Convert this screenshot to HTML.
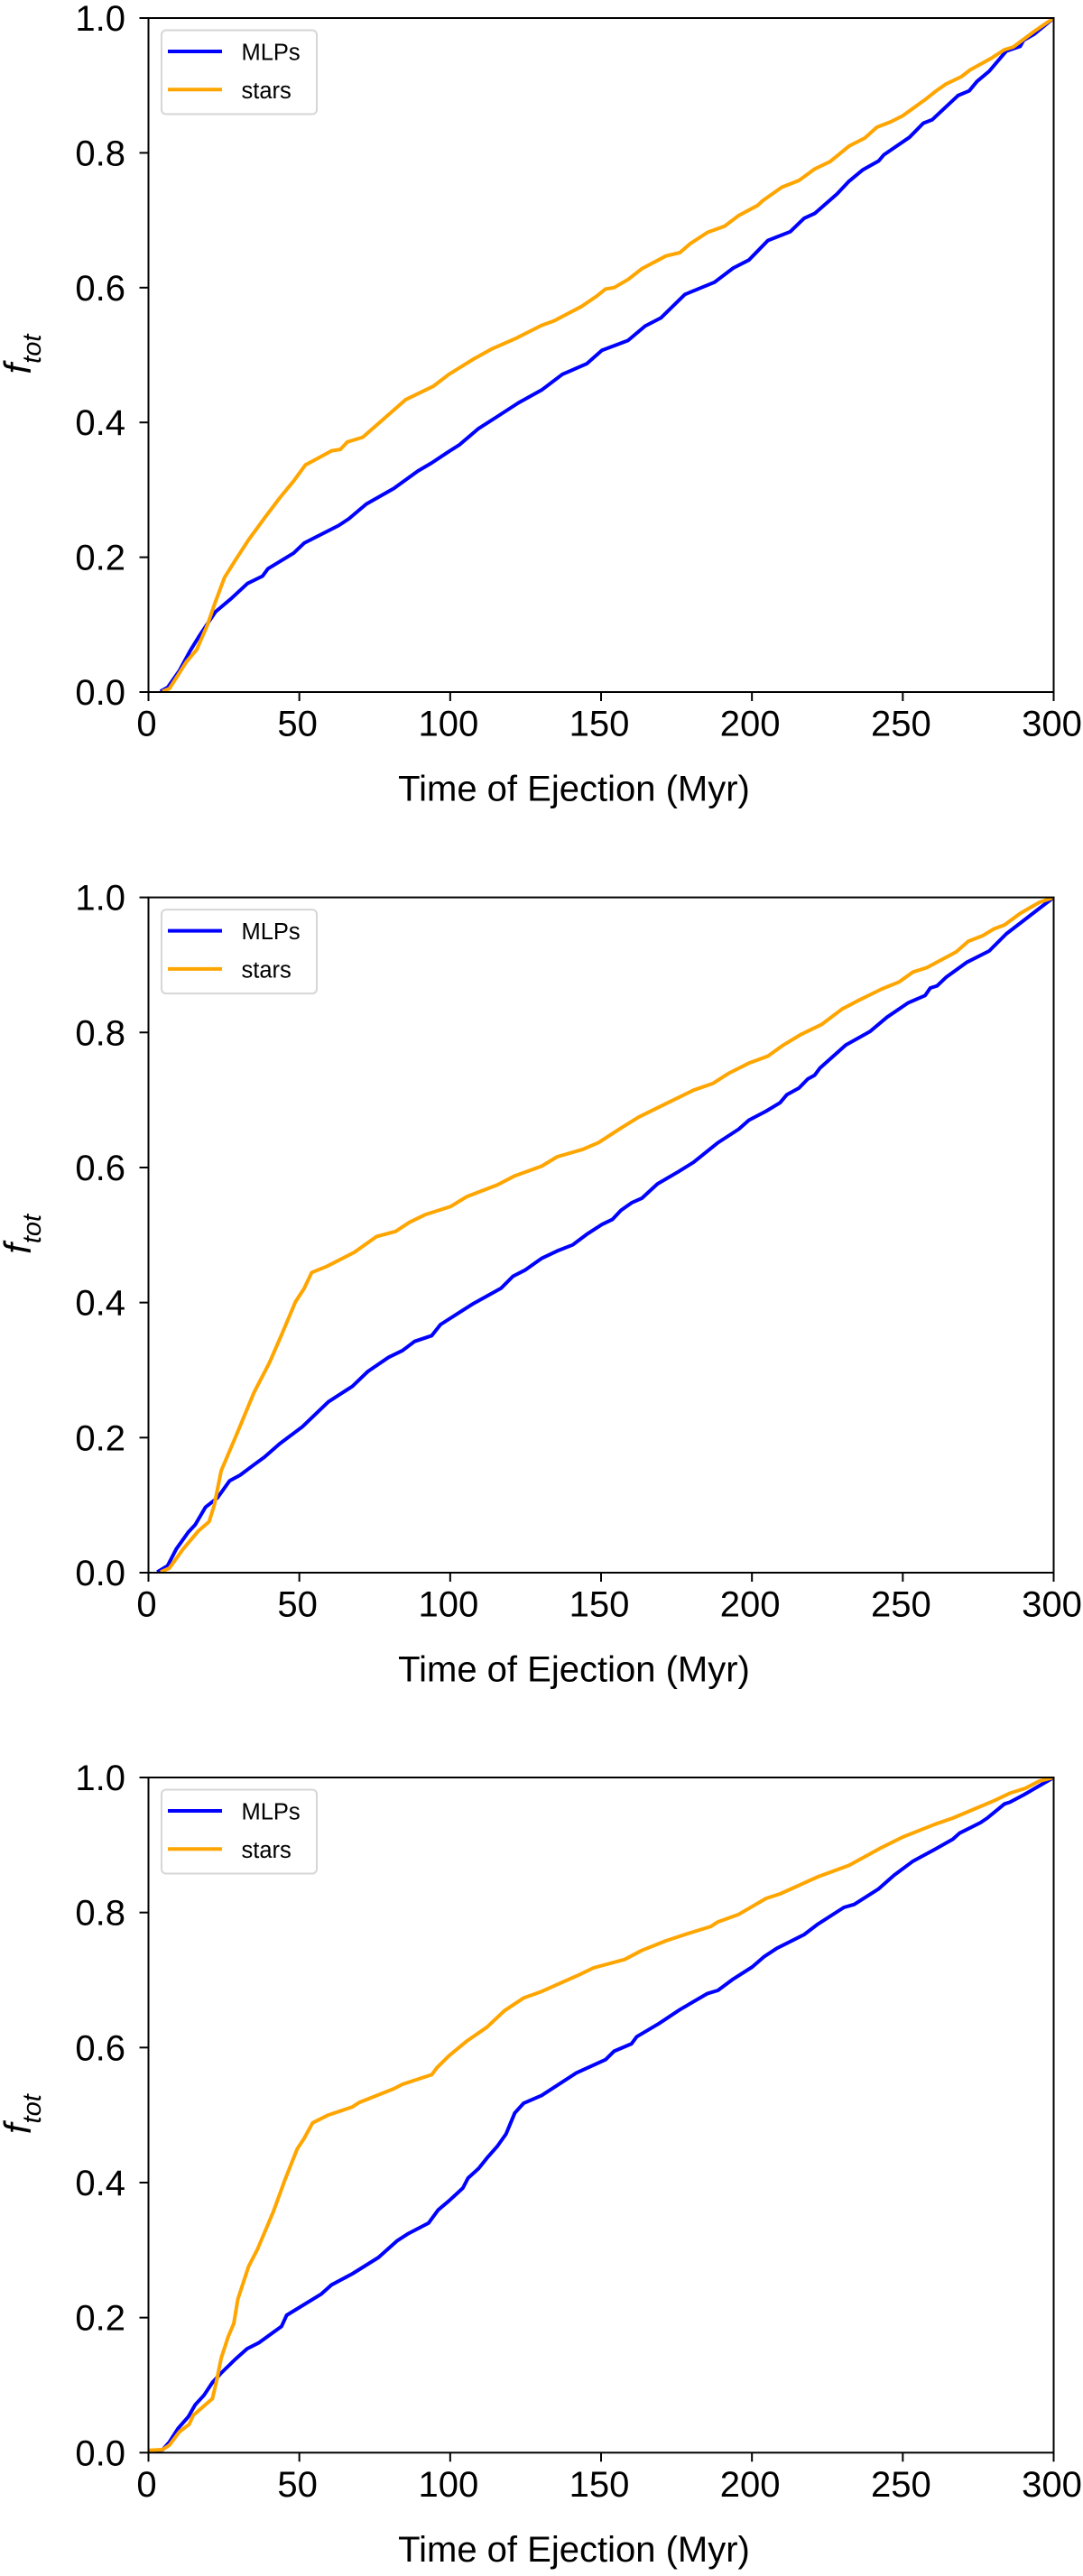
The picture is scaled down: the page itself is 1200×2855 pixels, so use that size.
<!DOCTYPE html>
<html lang="en">
<head>
<meta charset="utf-8">
<title>Cumulative fraction vs time of ejection</title>
<style>
html,body{margin:0;padding:0;background:#fff;}
svg{display:block;font-family:"Liberation Sans",Arial,sans-serif;}
</style>
</head>
<body>
<svg id="figure" xmlns="http://www.w3.org/2000/svg" width="1200" height="2855" viewBox="0 0 1200 2855"></svg>
<script>
const xTickValues = [0, 50, 100, 150, 200, 250, 300];
const yTickValues = [0, 0.2, 0.4, 0.6, 0.8, 1];
const yTickLabels = ["0.0", "0.2", "0.4", "0.6", "0.8", "1.0"];
const seriesNames = ["MLPs", "stars"];
const xAxisTitle = "Time of Ejection (Myr)";

const panel1MlpTimes = [4,6.4,10.3,13.8,16.8,19.5,22.2,27.5,32.8,37.8,39.6,48.1,51.6,63,66.4,72.2,81.3,89.3,93.9,99.6,103.1,109.4,115.7,122.6,130.3,137.2,145.2,150.3,158.9,164.6,169.8,177.8,187.6,193.8,199,205.3,212.7,217.3,220.8,228.2,232.2,236.8,242,243.7,252.2,256.8,259.7,268.3,272,274.6,278.6,284.3,288.9,290,293.5,300];
const panel1MlpFractions = [0.001,0.007,0.032,0.061,0.083,0.101,0.119,0.139,0.161,0.172,0.183,0.206,0.221,0.247,0.257,0.279,0.302,0.328,0.34,0.357,0.367,0.391,0.409,0.429,0.448,0.4715,0.487,0.507,0.5215,0.543,0.555,0.59,0.608,0.629,0.641,0.67,0.683,0.703,0.71,0.739,0.758,0.775,0.788,0.797,0.823,0.844,0.849,0.885,0.892,0.906,0.921,0.951,0.958,0.967,0.976,1];
const panel1StarTimes = [4.6,6.9,9.2,12.6,16,19.5,22.2,25.2,28.7,33.2,39,43.5,48.1,52,55,60.7,63.6,65.9,71,77.9,85.3,94.5,99.6,107.7,114,121.4,130.3,134.3,143.5,148.6,151.5,154.3,158.9,163.5,171.5,176.1,179.5,185.3,190.9,195.6,201.9,203.6,209.9,215.6,220.8,225.9,232.2,237.4,241.4,246,250,257.4,260.8,264.3,269.4,272.3,279.2,283.7,286.6,293.5,300];
const panel1StarFractions = [0.001,0.005,0.021,0.045,0.063,0.099,0.134,0.17,0.195,0.226,0.2615,0.288,0.313,0.337,0.344,0.358,0.36,0.371,0.378,0.405,0.434,0.454,0.4715,0.494,0.5095,0.524,0.544,0.5505,0.572,0.5875,0.598,0.6,0.612,0.628,0.647,0.652,0.665,0.682,0.691,0.707,0.722,0.729,0.749,0.759,0.776,0.787,0.81,0.822,0.838,0.846,0.855,0.879,0.891,0.902,0.913,0.923,0.94,0.953,0.957,0.98,1];

const panel2MlpTimes = [2.9,6.3,9.2,13.2,15.5,18.9,22.9,26.9,30.4,35,38.4,43.5,51,59.6,67.6,72.7,79.6,84.2,88.2,93.9,96.8,107.7,116.8,120.8,124.8,130.3,135.5,140.6,145.2,150.3,153.8,156.6,160.1,163.5,168.7,175.5,180.7,188.7,195.6,199,204.7,209.3,211.6,215.6,218.5,220.8,222.5,231.1,239.1,244.8,251.7,257.4,259.1,261.4,264.3,271.1,278.6,284.3,300];
const panel2MlpFractions = [0.001,0.01,0.035,0.06,0.071,0.097,0.111,0.136,0.1445,0.16,0.171,0.191,0.216,0.253,0.276,0.298,0.319,0.329,0.3425,0.351,0.3675,0.3986,0.421,0.439,0.448,0.4654,0.4765,0.4854,0.501,0.5157,0.5232,0.5366,0.5477,0.5544,0.5757,0.5935,0.6078,0.6367,0.6567,0.6701,0.6834,0.6959,0.7079,0.7177,0.731,0.7368,0.7471,0.7813,0.8013,0.8227,0.8436,0.8548,0.8659,0.869,0.8815,0.9037,0.9206,0.946,1];
const panel2StarTimes = [4,6.9,11.5,16.6,20.1,21.8,24.1,29.2,35,40.1,44.1,48.7,51.6,54.1,59,68.2,75.6,81.9,86.5,91.6,100.2,105.4,115.7,121.4,130.3,135.5,144,149.2,156.1,162.4,171.5,180.7,187,192.1,199,205.3,210.4,216.2,223,229.9,235.6,243.1,248.8,253.4,258,267.7,271.7,276.3,280.3,283.7,288.9,295.2,300];
const panel2StarFractions = [0.001,0.0065,0.035,0.062,0.0755,0.1,0.151,0.2045,0.267,0.311,0.352,0.4008,0.4209,0.4445,0.4534,0.4743,0.4978,0.5054,0.5188,0.5299,0.5424,0.5566,0.5744,0.5877,0.602,0.616,0.627,0.637,0.657,0.6745,0.6945,0.7146,0.7244,0.739,0.7546,0.7649,0.7813,0.7969,0.8116,0.8347,0.8481,0.8645,0.8748,0.8895,0.8961,0.9193,0.9349,0.9429,0.9535,0.9593,0.9762,0.9927,1];

const panel3MlpTimes = [0,4.6,6.9,9.8,13.2,15.5,18.4,21.2,24.1,28.7,32.7,36.7,44.1,45.8,57.3,60.7,67.6,76.2,82.5,85.9,92.8,96,99.6,104.2,105.9,109.4,112.2,115.7,118.5,121.4,124.3,130.3,141.8,151.5,154.3,160.1,161.8,169.2,176.1,185.3,188.7,193.8,200.1,204.1,208.2,217.3,221.9,230.5,233.9,242,247.1,253.4,260.8,266.6,268.8,275.7,278,283.7,285.5,290,300];
const panel3MlpFractions = [0.002,0.004,0.0155,0.036,0.053,0.071,0.085,0.104,0.118,0.138,0.154,0.163,0.187,0.2035,0.235,0.2485,0.265,0.289,0.314,0.324,0.34,0.3595,0.373,0.392,0.4067,0.4208,0.4364,0.4542,0.472,0.5032,0.5175,0.529,0.5625,0.5821,0.5946,0.6057,0.616,0.6356,0.6561,0.6801,0.6846,0.7015,0.7193,0.7349,0.7469,0.7674,0.783,0.8075,0.812,0.8351,0.8552,0.8761,0.8939,0.9086,0.9175,0.9331,0.9398,0.9608,0.9634,0.9741,1];
const panel3StarTimes = [0,4.6,6.9,10.3,13.5,14.9,21.2,22.7,24.1,26.4,28.3,29.6,33.2,36.1,41.3,45.3,49.3,51.6,54.4,59.6,67.6,69.9,81.3,84.2,93.9,95.6,99.6,105.4,112.2,118,124.3,130.3,142.9,147.5,157.8,163.5,171.5,178.4,186.4,188.7,195.6,204.7,209.3,221.9,232.2,243.1,250,260.8,266.6,280.3,285.5,290.6,295.2,300];
const panel3StarFractions = [0.0035,0.0044,0.011,0.031,0.042,0.0556,0.08,0.109,0.14,0.1715,0.1915,0.227,0.276,0.301,0.356,0.405,0.4498,0.4654,0.4885,0.5001,0.5121,0.5188,0.5389,0.5456,0.5598,0.5701,0.5879,0.6093,0.6302,0.6547,0.6734,0.683,0.7082,0.718,0.7304,0.7438,0.7581,0.7683,0.7794,0.7861,0.7973,0.8209,0.8276,0.853,0.8699,0.8966,0.9118,0.9309,0.9398,0.9657,0.9768,0.984,0.9946,1];

const NS = "http://www.w3.org/2000/svg";
const fig = document.getElementById("figure");
const plotLeft = 164.5, plotRight = 1167.5;
const xMax = 300;
const seriesColors = ["#0000ff", "#ffa500"];
function xScale(t) { return plotLeft + (t / xMax) * (plotRight - plotLeft); }
function yScaleFor(top, bottom) { return function (f) { return bottom - f * (bottom - top); }; }
function make(parent, tag, attrs, text) {
  const el = document.createElementNS(NS, tag);
  for (const k in attrs) el.setAttribute(k, attrs[k]);
  if (text !== undefined) el.textContent = text;
  parent.appendChild(el);
  return el;
}
function drawPanel(n, top, bottom, mlpT, mlpF, starT, starF) {
  const y = yScaleFor(top, bottom);
  const g = make(fig, "g", {});
  
  

  const clipId = "clip" + n;
  const defs = make(g, "defs", {});
  const clip = make(defs, "clipPath", { id: clipId });
  make(clip, "rect", { x: plotLeft, y: top, width: plotRight - plotLeft, height: bottom - top });

  const mlpLine = make(g, "polyline", {
    points: mlpT.map(function (t, i) { return xScale(t).toFixed(1) + "," + y(mlpF[i]).toFixed(1); }).join(" "),
    fill: "none", stroke: seriesColors[0], "stroke-width": 4, "stroke-linejoin": "round", "clip-path": "url(#" + clipId + ")"
  });
  
  

  const starLine = make(g, "polyline", {
    points: starT.map(function (t, i) { return xScale(t).toFixed(1) + "," + y(starF[i]).toFixed(1); }).join(" "),
    fill: "none", stroke: seriesColors[1], "stroke-width": 4, "stroke-linejoin": "round", "clip-path": "url(#" + clipId + ")"
  });
  
  

  const frame = make(g, "rect", {
    x: plotLeft, y: top, width: plotRight - plotLeft, height: bottom - top,
    fill: "none", stroke: "#000", "stroke-width": 2
  });
  
  

  xTickValues.forEach(function (v) {
    const px = xScale(v);
    const tick = make(g, "line", { x1: px, x2: px, y1: bottom, y2: bottom + 10, stroke: "#000", "stroke-width": 2 });
    
    
    const label = make(g, "text", { x: px - 2, y: bottom + 48.5, "font-size": 40, "text-anchor": "middle", fill: "#000" }, String(v));
    
    
  });

  yTickValues.forEach(function (v, i) {
    const py = y(v);
    const tick = make(g, "line", { x1: plotLeft - 10, x2: plotLeft, y1: py, y2: py, stroke: "#000", "stroke-width": 2 });
    
    
    const label = make(g, "text", { x: 139, y: py + 14, "font-size": 40, "text-anchor": "end", fill: "#000" }, yTickLabels[i]);
    
    
  });

  const xTitle = make(g, "text", { x: 636, y: bottom + 120.5, "font-size": 40, "text-anchor": "middle", fill: "#000" }, xAxisTitle);
  
  

  const midY = (top + bottom) / 2;
  const yTitle = make(g, "text", { transform: "translate(34," + (midY + 21) + ") rotate(-90)", "font-size": 42, "font-style": "italic", fill: "#000" });
  
  
  make(yTitle, "tspan", {}, "f");
  make(yTitle, "tspan", { dy: 11, "font-size": 29 }, "tot");

  const legend = make(g, "g", {});
  
  
  const box = make(legend, "rect", {
    x: 179, y: top + 13.5, width: 172, height: 93, rx: 5, ry: 5,
    fill: "#fff", "fill-opacity": 0.8, stroke: "#d6d6d6", "stroke-width": 2
  });
  
  
  seriesNames.forEach(function (name, i) {
    const ly = top + 37 + i * 42.3;
    const swatch = make(legend, "line", { x1: 186, x2: 246, y1: ly, y2: ly, stroke: seriesColors[i], "stroke-width": 4 });
    
    
    const txt = make(legend, "text", { x: 267.5, y: ly + 9.5, "font-size": 25.5, fill: "#000" }, name);
    
    
  });
}
drawPanel(1, 20, 767, panel1MlpTimes, panel1MlpFractions, panel1StarTimes, panel1StarFractions);
drawPanel(2, 994.6, 1743, panel2MlpTimes, panel2MlpFractions, panel2StarTimes, panel2StarFractions);
drawPanel(3, 1970, 2718.3, panel3MlpTimes, panel3MlpFractions, panel3StarTimes, panel3StarFractions);
</script>
</body>
</html>
